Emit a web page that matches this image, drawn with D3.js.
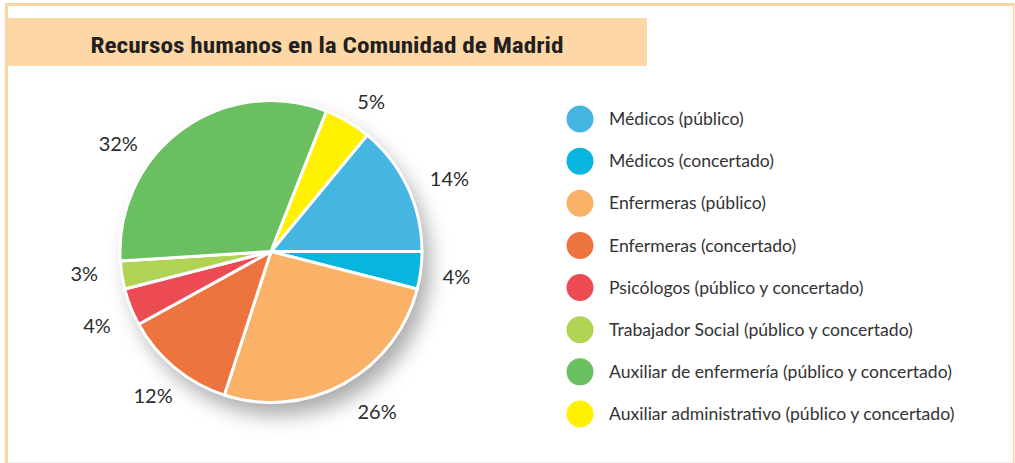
<!DOCTYPE html>
<html><head><meta charset="utf-8">
<script src="https://cdn.jsdelivr.net/npm/d3@7"></script>
<style>
html,body{margin:0;padding:0;background:#fff;}
svg{display:block;}
</style></head>
<body>
<svg id="chart" width="1015" height="463"></svg>
<script>
const title = "Recursos humanos en la Comunidad de Madrid";
const categories = [
  "Médicos (público)",
  "Médicos (concertado)",
  "Enfermeras (público)",
  "Enfermeras (concertado)",
  "Psicólogos (público y concertado)",
  "Trabajador Social (público y concertado)",
  "Auxiliar de enfermería (público y concertado)",
  "Auxiliar administrativo (público y concertado)"
];
const values = [14, 4, 26, 12, 4, 3, 32, 5];
const colors = ["#45b6e1", "#08b5df", "#f9b268", "#ee743f", "#ec4b54", "#b1d353", "#6abf60", "#fff100"];
// small per-label nudges (px) off the centroid position
const labelNudge = [[11, 6], [2, 2], [17, -2], [0, 2], [-2, 6], [-4, -6], [-44, 42], [6, 10]];

const svg = d3.select("#chart");
const W = 1015, H = 463;

// frame
svg.append("rect").attr("x", 0).attr("y", 0).attr("width", W).attr("height", H).attr("fill", "#fff");
svg.append("rect").attr("x", 5).attr("y", 3).attr("width", 1009).attr("height", 3).attr("fill", "#fcd4a2");
svg.append("rect").attr("x", 5).attr("y", 3).attr("width", 3).attr("height", 460).attr("fill", "#fcd4a2");
svg.append("rect").attr("x", 1013).attr("y", 3).attr("width", 1.5).attr("height", 460).attr("fill", "#fcd4a2");
svg.append("rect").attr("x", 8).attr("y", 462).attr("width", 1005).attr("height", 1).attr("fill", "#f3f0ec");

// title box
svg.append("rect").attr("x", 8).attr("y", 18).attr("width", 639).attr("height", 48).attr("fill", "#fdd8a6");
svg.append("text")
  .attr("x", 327).attr("y", 53)
  .attr("text-anchor", "middle")
  .attr("font-family", "'Liberation Sans Narrow', 'Roboto Condensed', 'Liberation Sans', sans-serif")
  .attr("font-weight", "bold")
  .attr("font-size", 22)
  .attr("fill", "#231f20")
  .attr("textLength", 473).attr("lengthAdjust", "spacingAndGlyphs")
  .text(title);

// shadow filter
const defs = svg.append("defs");
const f = defs.append("filter").attr("id", "shadow").attr("x", "-30%").attr("y", "-30%").attr("width", "160%").attr("height", "160%");
f.append("feDropShadow").attr("dx", 8).attr("dy", 13).attr("stdDeviation", 10)
  .attr("flood-color", "#000").attr("flood-opacity", 0.33);

const cx = 271, cy = 251.5, R = 151;
const deg = Math.PI / 180;
const pie = d3.pie().sort(null).value(d => d)
  .startAngle(39.6 * deg).endAngle(39.6 * deg + 2 * Math.PI);
const arcs = pie(values);
const arc = d3.arc().innerRadius(0).outerRadius(R);
const labelArc = d3.arc().innerRadius(185).outerRadius(185);

const g = svg.append("g").attr("transform", `translate(${cx},${cy})`);
g.append("circle").attr("r", R).attr("fill", "#fff").attr("filter", "url(#shadow)");
g.selectAll("path.slice").data(arcs).enter().append("path")
  .attr("class", "slice")
  .attr("d", arc)
  .attr("fill", (d, i) => colors[i])
  .attr("stroke", "#fff").attr("stroke-width", 3).attr("stroke-linejoin", "round");

g.selectAll("text.pct").data(arcs).enter().append("text")
  .attr("class", "pct")
  .attr("transform", (d, i) => {
    const c = labelArc.centroid(d);
    return `translate(${c[0] + labelNudge[i][0]},${c[1] + labelNudge[i][1]})`;
  })
  .attr("text-anchor", "middle")
  .attr("dy", "0.35em")
  .attr("font-family", "Lato, 'Open Sans', sans-serif")
  .attr("font-size", 20)
  .attr("fill", "#2b2b2b")
  .text(d => d.data + "%");

// legend
const ly = d3.scalePoint().domain(categories).range([119, 414]);
const lg = svg.append("g");
const items = lg.selectAll("g").data(categories).enter().append("g")
  .attr("transform", d => `translate(0,${ly(d)})`);
items.append("circle").attr("cx", 580).attr("cy", 0).attr("r", 13.5)
  .attr("fill", (d, i) => colors[i]);
items.append("text").attr("x", 609).attr("y", 0).attr("dy", "0.35em")
  .attr("font-family", "Lato, 'Open Sans', sans-serif")
  .attr("font-size", 17.6)
  .attr("fill", "#333")
  .text(d => d);
</script>
</body></html>
